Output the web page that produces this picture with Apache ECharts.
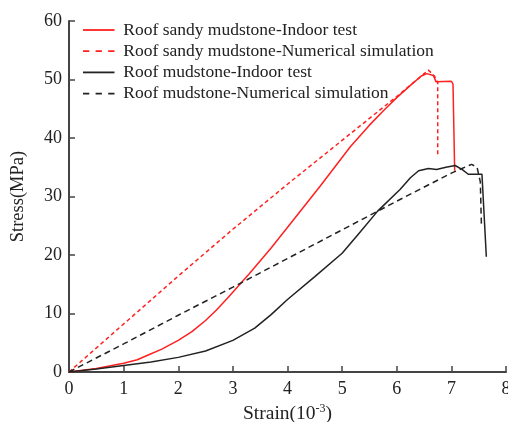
<!DOCTYPE html>
<html>
<head>
<meta charset="utf-8">
<script src="https://cdn.jsdelivr.net/npm/echarts@6/dist/echarts.min.js"></script>
<style>html,body{margin:0;padding:0;background:#fff}#c{width:508px;height:422px}</style>
</head>
<body>
<div id="c"></div>
<script>
var seriesNames = [
  'Roof sandy mudstone-Indoor test',
  'Roof sandy mudstone-Numerical simulation',
  'Roof mudstone-Indoor test',
  'Roof mudstone-Numerical simulation'
];
var sandyTest = [[0,0],[0.5,0.6],[1,1.5],[1.25,2.1],[1.45,2.9],[1.7,3.9],[2,5.4],[2.25,6.9],[2.5,8.8],[2.7,10.6],[2.9,12.6],[3.1,14.7],[3.3,16.8],[3.7,21.2],[4.1,25.9],[4.6,31.8],[5.15,38.5],[5.5,42.2],[5.76,44.7],[6.0,46.9],[6.25,49.0],[6.45,50.6],[6.55,51.0],[6.67,50.7],[6.72,49.6],[7.0,49.7],[7.03,49.2],[7.06,34.4]];
var sandySim = [[0,0],[1,8.2],[2,16.4],[3,24.4],[4,32.1],[5,39.6],[6,47.1],[6.58,51.6],[6.69,50.6],[6.75,49.5],[6.75,36.8]];
var mudTest = [[0,0],[0.5,0.5],[1,1.1],[1.5,1.7],[2,2.5],[2.5,3.6],[3.0,5.4],[3.4,7.5],[3.7,9.8],[4.0,12.4],[4.5,16.3],[5.0,20.3],[5.3,23.6],[5.65,27.5],[6.06,31.2],[6.25,33.2],[6.4,34.4],[6.58,34.8],[6.73,34.6],[6.9,35.0],[7.07,35.3],[7.2,34.6],[7.31,33.8],[7.56,33.8],[7.59,33.5],[7.64,19.7]];
var mudSim = [[0,0],[1,4.8],[2,9.7],[3,14.5],[4,19.4],[5,24.3],[6,29.2],[7,34.0],[7.37,35.5],[7.47,35.0],[7.53,32.5],[7.55,25.1]];
var xTicks = [0,1,2,3,4,5,6,7,8];
var yTicks = [0,10,20,30,40,50,60];

var font = 'Liberation Serif';
var solidIcon = 'path://M0,0H35V2H0Z';
var dashIcon = 'path://M0,0H7V2H0Z M14,0H21V2H14Z M28,0H35V2H28Z';
var chart = echarts.init(document.getElementById('c'), null, {renderer:'canvas'});
function mk(name, data, color, type) {
  return {
    name: name, type: 'line', data: data, symbol: 'none', smooth: false,
    lineStyle: {color: color, width: 1.5, type: type},
    itemStyle: {color: color}
  };
}
chart.setOption({
  animation: false,
  backgroundColor: '#fff',
  grid: {left: 69, right: 2, top: 21, bottom: 50, containLabel: false, outerBoundsMode: 'none'},
  legend: {
    orient: 'vertical', left: 78, top: 16, itemWidth: 35, itemHeight: 1.8, itemGap: 3.2,
    textStyle: {fontFamily: font, fontSize: 17.5, color: '#222', padding: [0,0,0,2]},
    data: [
      {name: seriesNames[0], icon: solidIcon},
      {name: seriesNames[1], icon: dashIcon},
      {name: seriesNames[2], icon: solidIcon},
      {name: seriesNames[3], icon: dashIcon}
    ]
  },
  xAxis: {
    type: 'value', min: xTicks[0], max: xTicks[xTicks.length-1], interval: 1,
    name: '{a|Strain(10}{s|-3}{a|)}', nameLocation: 'middle', nameGap: 30,
    nameTextStyle: {rich: {
      a: {fontFamily: font, fontSize: 19.5, color: '#222'},
      s: {fontFamily: font, fontSize: 12, color: '#222', padding: [0,0,10,0]}
    }},
    axisLine: {show: true, lineStyle: {color: '#444', width: 2}},
    axisTick: {show: true, inside: true, length: 6, lineStyle: {color: '#444', width: 1.5}},
    axisLabel: {fontFamily: font, fontSize: 18, color: '#222', margin: 8},
    splitLine: {show: false}
  },
  yAxis: {
    type: 'value', min: yTicks[0], max: yTicks[yTicks.length-1], interval: 10,
    name: 'Stress(MPa)', nameLocation: 'middle', nameGap: 41,
    nameTextStyle: {fontFamily: font, fontSize: 18.5, color: '#222'},
    axisLine: {show: true, lineStyle: {color: '#444', width: 2}},
    axisTick: {show: true, inside: true, length: 6, lineStyle: {color: '#444', width: 1.5}},
    axisLabel: {fontFamily: font, fontSize: 18, color: '#222', margin: 7},
    splitLine: {show: false}
  },
  series: [
    mk(seriesNames[0], sandyTest, '#ff2020', 'solid'),
    mk(seriesNames[1], sandySim, '#ff2020', [4,3]),
    mk(seriesNames[2], mudTest, '#222222', 'solid'),
    mk(seriesNames[3], mudSim, '#222222', [6,4])
  ]
});
</script>
</body>
</html>
